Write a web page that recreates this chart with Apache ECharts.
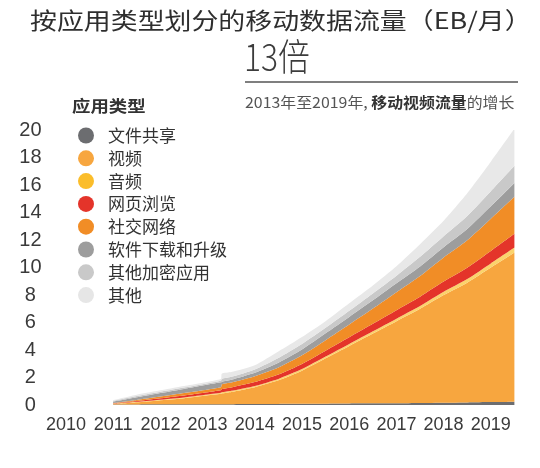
<!DOCTYPE html>
<html>
<head>
<meta charset="utf-8">
<script src="https://cdn.jsdelivr.net/npm/echarts@6/dist/echarts.min.js"></script>
<style>
html,body{margin:0;padding:0;background:#fff;}
#chart{width:540px;height:468px;}
</style>
</head>
<body>
<div id="chart"></div>
<script>
// Category tick labels (x axis)
const years = ['2010','2011','2012','2013','2014','2015','2016','2017','2018','2019'];
// Time positions of data points (fractional year)
const xs = [2011.5, 2012, 2013, 2013.78, 2013.8, 2014, 2014.5, 2015, 2015.5, 2016, 2016.5, 2017, 2017.5, 2018, 2018.5, 2019, 2019.5, 2020];

const seriesNames = ['文件共享','视频','音频','网页浏览','社交网络','软件下载和升级','其他加密应用','其他'];
const fileSharing = [0.03,0.04,0.05,0.06,0.06,0.06,0.07,0.08,0.09,0.10,0.11,0.12,0.13,0.15,0.17,0.19,0.21,0.24];
const video       = [0.04,0.16,0.45,0.76,0.78,0.89,1.23,1.72,2.41,3.30,4.19,5.08,5.97,6.85,7.83,8.71,9.79,10.86];
const audio       = [0.02,0.03,0.05,0.07,0.08,0.08,0.09,0.10,0.11,0.12,0.14,0.16,0.18,0.20,0.23,0.26,0.30,0.35];
const web         = [0.03,0.06,0.14,0.18,0.24,0.25,0.28,0.32,0.38,0.43,0.49,0.55,0.62,0.68,0.75,0.82,0.90,1.00];
const social      = [0.03,0.08,0.18,0.22,0.34,0.35,0.42,0.50,0.62,0.76,0.92,1.10,1.30,1.50,1.75,2.00,2.35,2.70];
const software    = [0.10,0.20,0.30,0.36,0.18,0.20,0.25,0.35,0.42,0.50,0.55,0.60,0.65,0.70,0.75,0.82,0.90,1.00];
const encrypted   = [0.05,0.08,0.10,0.12,0.22,0.22,0.25,0.35,0.40,0.40,0.45,0.50,0.55,0.70,0.80,0.95,1.10,1.25];
const other       = [0.05,0.10,0.11,0.12,0.38,0.35,0.31,0.48,0.52,0.49,0.55,0.59,0.70,0.92,1.12,1.65,2.15,2.70];

const yTicks = [0,2,4,6,8,10,12,14,16,18,20];

const dotColors  = ['#6c6d70','#f7a63f','#fbbd2a','#e4342a','#f18d26','#9d9d9d','#c9c9c9','#e6e6e6'];
const areaColors = ['#6c6d70','#f7a63f','#fbd36c','#e4342a','#f18d26','#9d9d9d','#c9c9c9','#e8e8e8'];
const valueArrays = [fileSharing, video, audio, web, social, software, encrypted, other];

function yearToTime(y) {
  const yr = Math.floor(y);
  const start = Date.UTC(yr, 0, 1);
  const end = Date.UTC(yr + 1, 0, 1);
  return start + (y - yr) * (end - start);
}

const chart = echarts.init(document.getElementById('chart'));
const cjk = "'Noto Sans CJK SC', 'Noto Sans', sans-serif";
const num = "'Liberation Sans', Arial, sans-serif";

const series = seriesNames.map((name, i) => ({
  name: name,
  type: 'line',
  xAxisIndex: 1,
  yAxisIndex: 0,
  stack: 'total',
  smooth: 0.2,
  symbol: 'none',
  lineStyle: { width: 0 },
  itemStyle: { color: dotColors[i] },
  areaStyle: { color: areaColors[i], opacity: 1 },
  data: xs.map((x, j) => [yearToTime(x), valueArrays[i][j]])
}));

chart.setOption({
  animation: false,
  grid: { left: 42.4, right: 25.6, top: 130, bottom: 63 },
  legend: {
    orient: 'vertical',
    left: 73,
    top: 122,
    itemWidth: 16,
    itemHeight: 16,
    itemGap: 5.8,
    icon: 'circle',
    data: seriesNames,
    textStyle: { fontFamily: cjk, fontSize: 17, color: '#333', padding: [0,0,0,9] },
    selectedMode: false
  },
  xAxis: [
    {
      type: 'category',
      data: years,
      boundaryGap: true,
      axisLine: { show: false },
      axisTick: { show: false },
      axisLabel: { interval: 0, fontFamily: num, fontSize: 18, color: '#3a3a3a', margin: 11 }
    },
    {
      type: 'time',
      min: yearToTime(2010),
      max: yearToTime(2020),
      show: false
    }
  ],
  yAxis: {
    type: 'value',
    min: yTicks[0],
    max: yTicks[yTicks.length - 1],
    interval: 2,
    axisLine: { show: false },
    axisTick: { show: false },
    splitLine: { show: false },
    axisLabel: { fontFamily: num, fontSize: 20, color: '#3a3a3a', align: 'center', margin: 12 }
  },
  graphic: [
    { type: 'text', x: 30, y: 9, scaleX: 1.17, style: { text: '按应用类型划分的移动数据流量（EB/月）', font: "23px 'Noto Sans CJK SC'", fill: '#2e2e2e' } },
    { type: 'text', x: 244, y: 38, scaleX: 0.86, style: { text: '13倍', font: "300 37px 'Noto Sans CJK SC'", fill: '#3c3c3c' } },
    { type: 'line', shape: { x1: 245, y1: 82, x2: 518, y2: 82 }, style: { stroke: '#555', lineWidth: 1.5 } },
    { type: 'text', x: 245, y: 95, scaleX: 1.06, style: {
        text: '{a|2013年至2019年, }{b|移动视频流量}{a|的增长}',
        rich: {
          a: { fontFamily: cjk, fontSize: 15, fill: '#555', color: '#555' },
          b: { fontFamily: cjk, fontSize: 15, fontWeight: 'bold', fill: '#333', color: '#333' }
        }
      } },
    { type: 'text', x: 72, y: 98, scaleX: 1.15, style: { text: '应用类型', font: "bold 16px 'Noto Sans CJK SC'", fill: '#333' } }
  ],
  series: series
});
</script>
</body>
</html>
